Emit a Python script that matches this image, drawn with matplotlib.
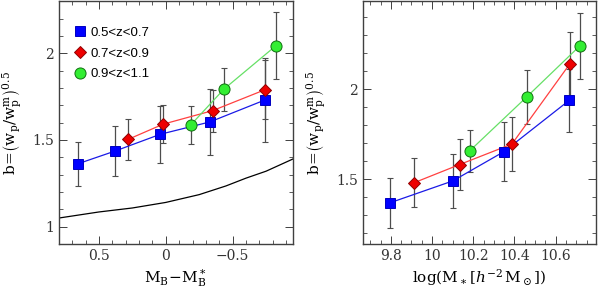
import numpy as np
import matplotlib
matplotlib.use('Agg')
from matplotlib import pyplot as plt
from matplotlib.ticker import MultipleLocator, FuncFormatter

# left panel: b vs M_B - M_B*
mag_blue = [0.66, 0.38, 0.04, -0.33, -0.74]
b_blue = [1.362, 1.436, 1.533, 1.604, 1.730]
e_blue = [0.126, 0.143, 0.164, 0.190, 0.244]

mag_red = [0.28, 0.02, -0.35, -0.74]
b_red = [1.504, 1.591, 1.669, 1.789]
e_red = [0.118, 0.109, 0.121, 0.171]

mag_green = [-0.185, -0.435, -0.825]
b_green = [1.585, 1.793, 2.044]
e_green = [0.110, 0.124, 0.194]

# model curve
mag_curve = [0.8, 0.5, 0.25, 0.0, -0.25, -0.45, -0.6, -0.75, -0.95]
b_curve = [1.05, 1.085, 1.108, 1.14, 1.185, 1.235, 1.28, 1.32, 1.39]

# right panel: b vs log stellar mass
mass_blue = [9.795, 10.101, 10.348, 10.665]
bm_blue = [1.369, 1.491, 1.653, 1.938]
em_blue = [0.14, 0.152, 0.163, 0.177]

mass_red = [9.913, 10.134, 10.388, 10.668]
bm_red = [1.481, 1.582, 1.696, 2.14]
em_red = [0.137, 0.144, 0.151, 0.181]

mass_green = [10.182, 10.459, 10.717]
bm_green = [1.657, 1.957, 2.241]
em_green = [0.118, 0.148, 0.184]

labels = ['0.5<z<0.7', '0.7<z<0.9', '0.9<z<1.1']

plt.rcParams['font.family'] = 'DejaVu Serif'
plt.rcParams['mathtext.fontset'] = 'dejavuserif'

fig = plt.figure(figsize=(6, 2.93), dpi=100)
ax1 = fig.add_axes([0.098, 0.167, 0.39, 0.829])
ax2 = fig.add_axes([0.605, 0.167, 0.388, 0.829])

styles = [
    dict(marker='s', color='#1a1ae6', mfc='#0000ff', mec='#0000c0', ms=6.5),
    dict(marker='D', color='#ff4040', mfc='#ee0000', mec='#900000', ms=6.5),
    dict(marker='o', color='#66e066', mfc='#33ee33', mec='#107010', ms=8),
]

def draw(ax, xs, ys, es):
    for x, y, e, st, lab in zip(xs, ys, es, styles, labels):
        ax.errorbar(x, y, yerr=e, fmt='none', ecolor='0.3', elinewidth=0.9,
                    capsize=2.5, capthick=0.8, zorder=2)
        ax.plot(x, y, '-', color=st['color'], lw=0.9, zorder=3)
        ax.plot(x, y, linestyle='none', marker=st['marker'], mfc=st['mfc'],
                mec=st['mec'], ms=st['ms'], mew=0.7, zorder=4, label=lab)

def fmt(v, pos):
    return '%g' % v if v >= 0 else '\u2212%g' % (-v)

draw(ax1, [mag_blue, mag_red, mag_green], [b_blue, b_red, b_green],
     [e_blue, e_red, e_green])
ax1.plot(mag_curve, b_curve, 'k-', lw=0.9, zorder=1)
ax1.set_xlim(0.8, -0.95)
ax1.set_ylim(0.9, 2.3)
ax1.xaxis.set_major_locator(MultipleLocator(0.5))
ax1.xaxis.set_minor_locator(MultipleLocator(0.1))
ax1.yaxis.set_major_locator(MultipleLocator(0.5))
ax1.yaxis.set_minor_locator(MultipleLocator(0.1))
ax1.set_xlabel(r'$\mathrm{M_B\!-\!M_B^*}$', fontsize=11, labelpad=3)
leg = ax1.legend(loc='upper left', bbox_to_anchor=(0.0, 0.95), frameon=False,
                 handletextpad=0.2, borderaxespad=0.6, labelspacing=0.65,
                 handlelength=1.2,
                 prop={'family': 'Liberation Sans', 'size': 9.5})

draw(ax2, [mass_blue, mass_red, mass_green], [bm_blue, bm_red, bm_green],
     [em_blue, em_red, em_green])
ax2.set_xlim(9.665, 10.795)
ax2.set_ylim(1.14, 2.49)
ax2.xaxis.set_major_locator(MultipleLocator(0.2))
ax2.xaxis.set_minor_locator(MultipleLocator(0.05))
ax2.yaxis.set_major_locator(MultipleLocator(0.5))
ax2.yaxis.set_minor_locator(MultipleLocator(0.1))
ax2.set_xlabel(r'$\log(\mathrm{M}_\ast[h^{-2}\,\mathrm{M}_\odot])$', fontsize=11, labelpad=3)

for ax in (ax1, ax2):
    ax.set_ylabel(r'$\mathrm{b\!=\!\left(w_p/w_p^m\right)^{0.5}}$', fontsize=11, labelpad=6)
    ax.xaxis.set_major_formatter(FuncFormatter(fmt))
    ax.yaxis.set_major_formatter(FuncFormatter(fmt))
    ax.tick_params(which='both', direction='in', top=True, right=True,
                   labelsize=10, colors='0.25', labelcolor='0.2')
    ax.tick_params(which='major', length=6, width=0.7)
    ax.tick_params(which='minor', length=3, width=0.6)
    for s in ax.spines.values():
        s.set_linewidth(1.0)
        s.set_color('0.25')

fig.savefig('out.png', dpi=100)
